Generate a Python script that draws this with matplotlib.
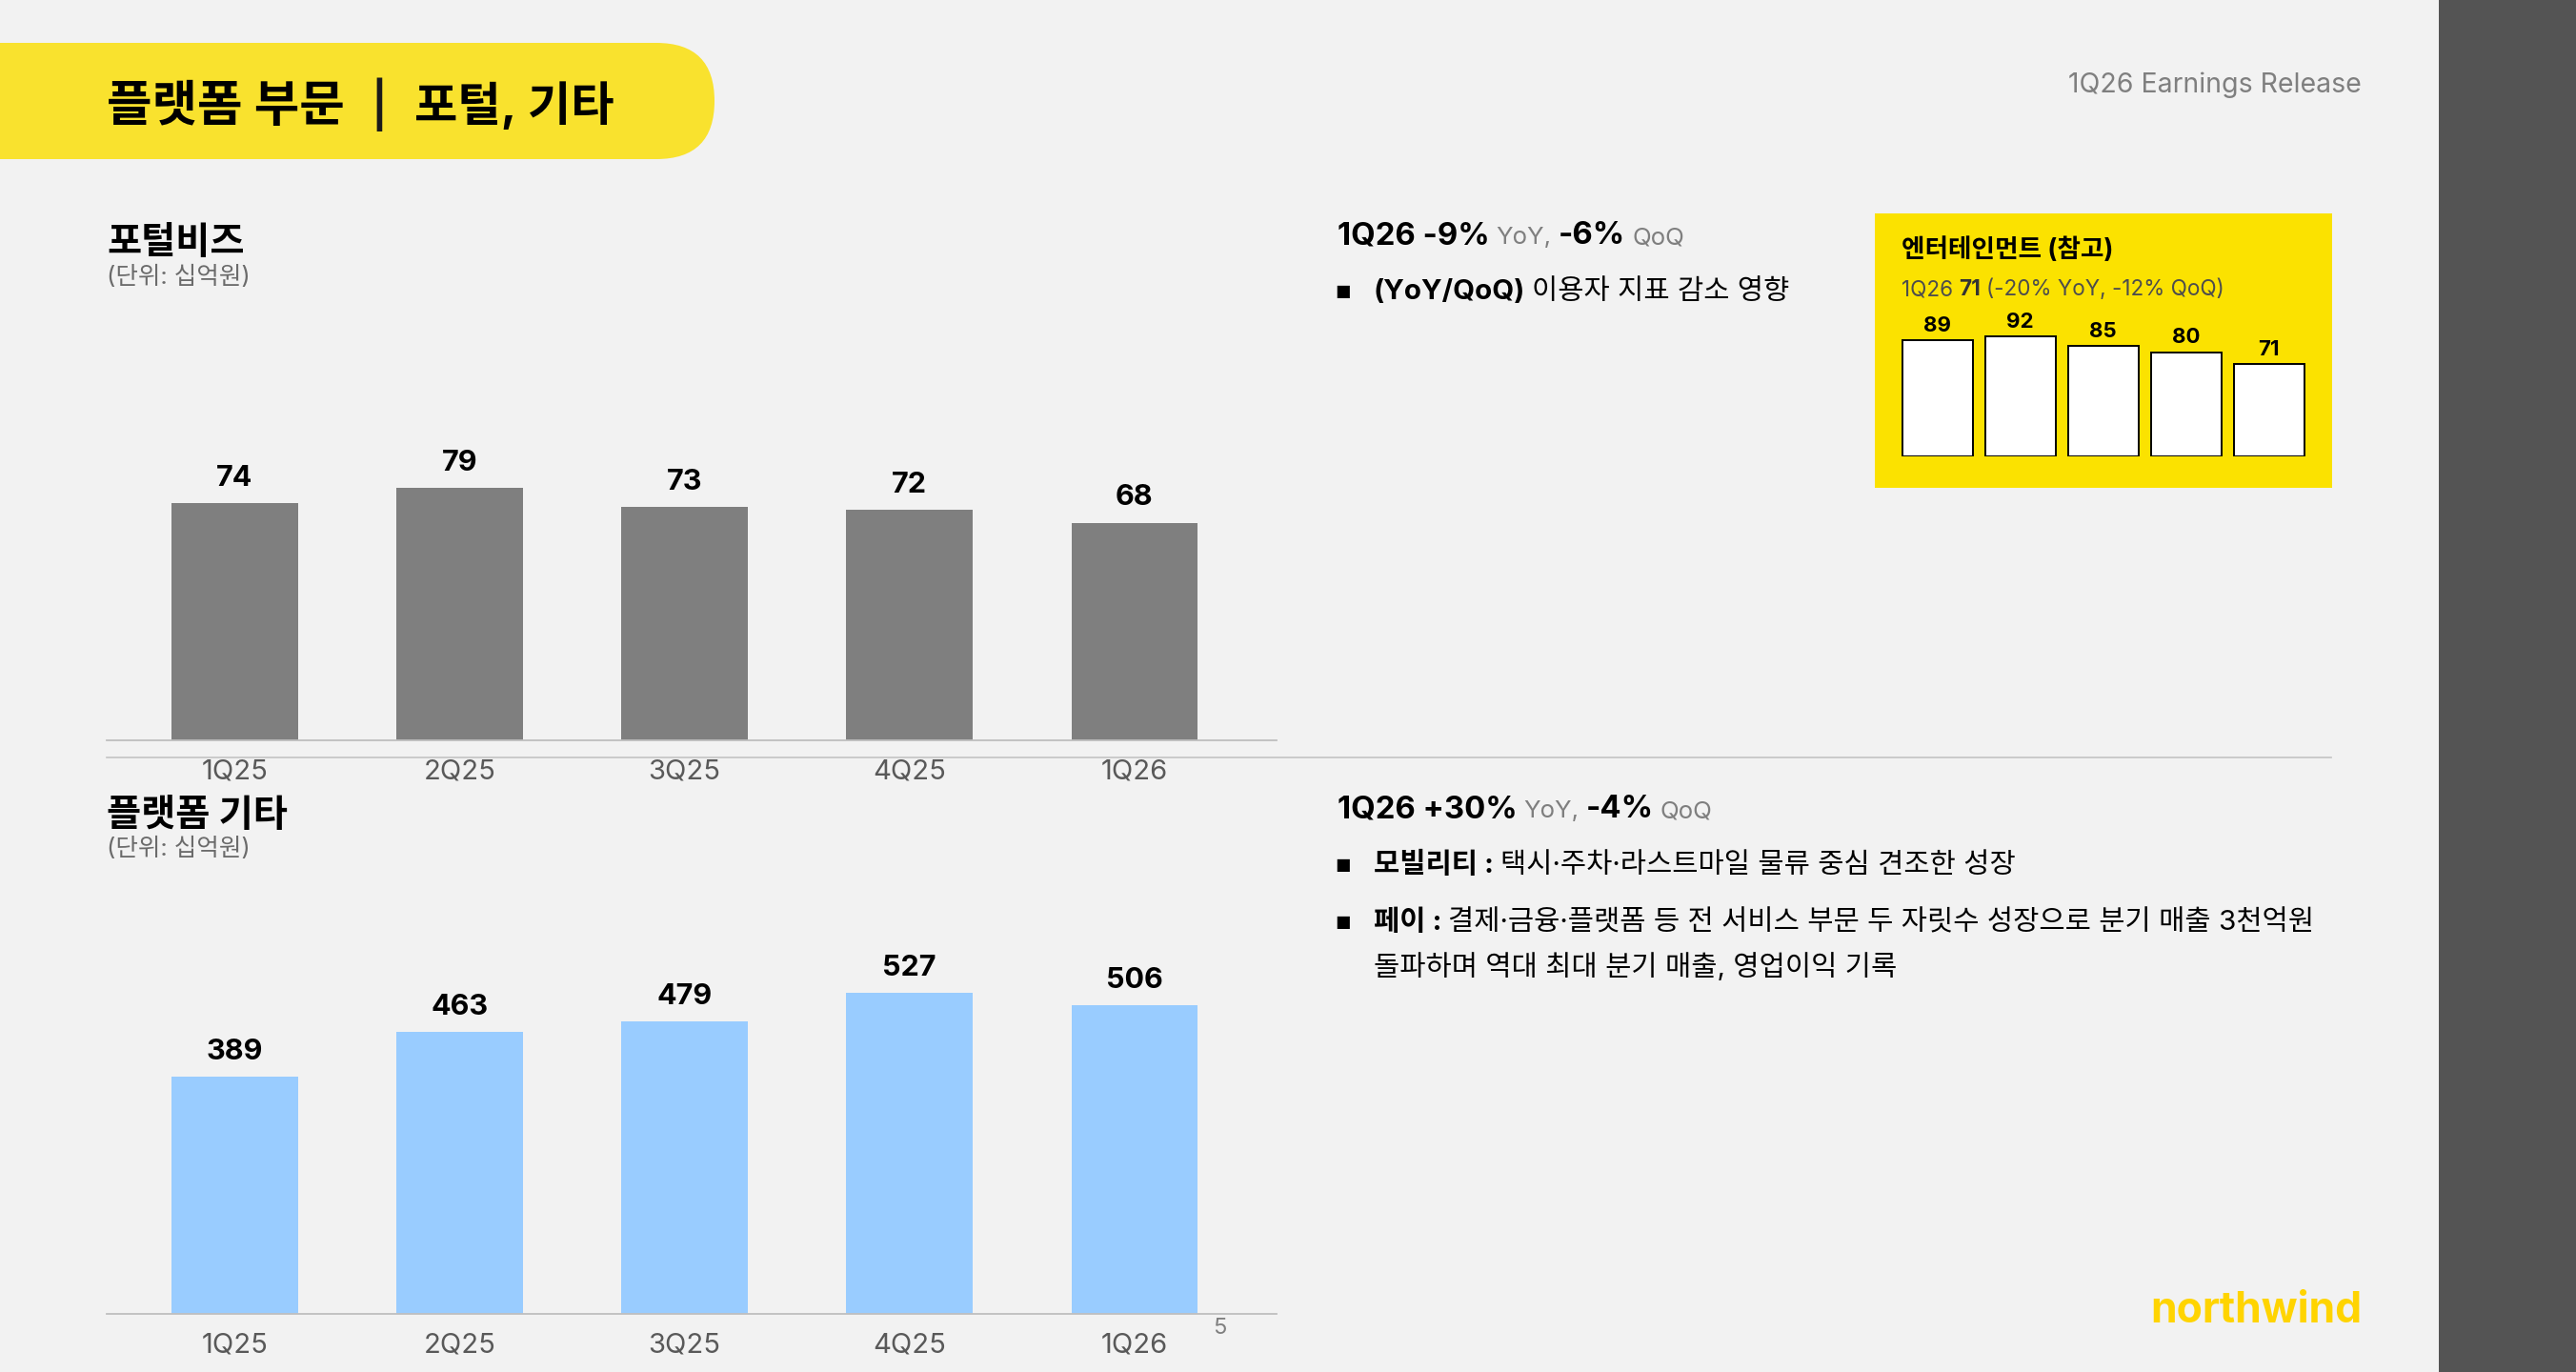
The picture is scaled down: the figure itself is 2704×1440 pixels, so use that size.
import matplotlib
matplotlib.use("Agg")
import matplotlib.pyplot as plt
from matplotlib.patches import FancyBboxPatch, Rectangle

plt.rcParams['font.family'] = ['Inter', 'Noto Sans CJK KR', 'DejaVu Sans']

W, H = 2704, 1440

# data
quarters = ['1Q25', '2Q25', '3Q25', '4Q25', '1Q26']
portal_biz = [74, 79, 73, 72, 68]
platform_etc = [389, 463, 479, 527, 506]
entertainment = [89, 92, 85, 80, 71]

BG = '#f2f2f2'
GREY_TXT = '#7f7f7f'

fig = plt.figure(figsize=(W / 100, H / 100), dpi=100, facecolor=BG)

# full-figure axes in pixel units for the slide furniture
bg = fig.add_axes([0, 0, 1, 1], zorder=0)
bg.set_xlim(0, W)
bg.set_ylim(H, 0)
bg.axis('off')


def px_axes(left, top, right, bottom):
    ax = fig.add_axes([left / W, 1 - bottom / H, (right - left) / W, (bottom - top) / H], zorder=2)
    ax.patch.set_alpha(0)
    return ax


def rich(x, y, parts):
    # parts: (text, size, weight, color, gap_after_px)
    r = fig.canvas.get_renderer()
    for s, size, weight, color, gap in parts:
        t = bg.text(x, y, s, fontsize=size, fontweight=weight, color=color,
                    va='baseline', ha='left')
        x += t.get_window_extent(r).width + gap


# right dark band
bg.add_patch(Rectangle((2560, 0), W - 2560, H, color='#545454', lw=0))

# title banner
bg.add_patch(FancyBboxPatch((-200, 45), 950, 122, boxstyle='round,pad=0,rounding_size=61',
                            fc='#f9e22e', ec='none'))
rich(112, 127, [('플랫폼 부문', 37.2, 'bold', 'black', 28),
                ('|', 34, 'semibold', '#1a1a1a', 28),
                ('포털, 기타', 35.5, 'bold', 'black', 0)])
bg.text(2479, 97, '1Q26 Earnings Release', fontsize=20.5, color=GREY_TXT,
        ha='right', va='baseline')
bg.text(2479, 1388, 'northwind', fontsize=32, fontweight='bold', color='#ffd400',
        ha='right', va='baseline')

# section titles
bg.text(112, 266, '포털비즈', fontsize=28.3, fontweight='bold', color='black', va='baseline')
bg.text(112, 298, '(단위: 십억원)', fontsize=18.4, color='#6b6b6b', va='baseline')
bg.text(112, 867, '플랫폼 기타', fontsize=28.3, fontweight='bold', color='black', va='baseline')
bg.text(112, 898, '(단위: 십억원)', fontsize=18.4, color='#6b6b6b', va='baseline')

# divider
bg.plot([112, 2447], [795, 795], color='#c4c4c4', lw=1.2)

# page number
bg.text(1273, 1400, '5', fontsize=17, color=GREY_TXT, va='baseline')


def bar_panel(ax, values, color, ymax):
    x = list(range(len(values)))
    ax.bar(x, values, width=0.56, color=color, zorder=2)
    ax.set_xlim(-0.57, 4.633)
    ax.set_ylim(0, ymax)
    for s in ['top', 'right', 'left']:
        ax.spines[s].set_visible(False)
    ax.spines['bottom'].set_color('#bfbfbf')
    ax.spines['bottom'].set_linewidth(1.3)
    ax.set_yticks([])
    ax.set_xticks(x)
    ax.set_xticklabels(quarters, fontsize=21, color='#595959')
    ax.tick_params(axis='x', length=0, pad=14)
    for i, v in enumerate(values):
        ax.annotate(str(v), (i, v), xytext=(0, 13), textcoords='offset points',
                    ha='center', va='baseline', fontsize=22, fontweight='bold')


ax1 = px_axes(112, 470, 1340, 777)
bar_panel(ax1, portal_biz, '#7f7f7f', (777 - 470) / 3.36)

ax2 = px_axes(112, 1000, 1340, 1379)
bar_panel(ax2, platform_etc, '#99ccff', (1379 - 1000) / 0.64)

BODY = 21.3

# right text, top
rich(1404, 256, [('1Q26 -9%', 23.7, 'bold', 'black', 7),
                 ('YoY,', 18.6, 'normal', GREY_TXT, 7),
                 ('-6%', 23.7, 'bold', 'black', 7),
                 ('QoQ', 18.6, 'normal', GREY_TXT, 0)])
bg.text(1401, 313, '■', fontsize=13, color='black', va='baseline')
rich(1442, 314, [('(YoY/QoQ)', BODY, 'bold', 'black', 7),
                 ('이용자 지표 감소 영향', BODY, 'normal', 'black', 0)])

# right text, bottom
rich(1404, 858, [('1Q26 +30%', 23.7, 'bold', 'black', 7),
                 ('YoY,', 18.6, 'normal', GREY_TXT, 7),
                 ('-4%', 23.7, 'bold', 'black', 7),
                 ('QoQ', 18.6, 'normal', GREY_TXT, 0)])
bg.text(1401, 915, '■', fontsize=13, color='black', va='baseline')
rich(1442, 916, [('모빌리티 :', BODY, 'bold', 'black', 7),
                 ('택시·주차·라스트마일 물류 중심 견조한 성장', BODY, 'normal', 'black', 0)])
bg.text(1401, 975, '■', fontsize=13, color='black', va='baseline')
rich(1442, 976, [('페이 :', BODY, 'bold', 'black', 7),
                 ('결제·금융·플랫폼 등 전 서비스 부문 두 자릿수 성장으로 분기 매출 3천억원',
                  BODY, 'normal', 'black', 0)])
bg.text(1442, 1024, '돌파하며 역대 최대 분기 매출, 영업이익 기록', fontsize=BODY,
        color='black', va='baseline')

# entertainment reference box
bg.add_patch(Rectangle((1968, 224), 480, 288, fc='#fbe200', ec='none'))
bg.text(1996, 270, '엔터테인먼트 (참고)', fontsize=19.2, fontweight='bold',
        color='black', va='baseline')
rich(1996, 310, [('1Q26', 16.2, 'normal', '#4d4d4d', 6),
                 ('71', 16.2, 'bold', '#333333', 6),
                 ('(-20% YoY, -12% QoQ)', 16.2, 'normal', '#4d4d4d', 0)])

ax3 = px_axes(1990.3, 330, 2425.3, 478.7)
xs = list(range(len(entertainment)))
ax3.bar(xs, entertainment, width=0.845, color='white', edgecolor='black', lw=1.4)
ax3.set_xlim(-0.5, 4.5)
ax3.set_ylim(0, 148.7 / 1.365)
ax3.axis('off')
for i, v in enumerate(entertainment):
    ax3.annotate(str(v), (i, v), xytext=(0, 6.5), textcoords='offset points',
                 ha='center', va='baseline', fontsize=16, fontweight='bold')

fig.savefig('out.png', dpi=100, facecolor=BG)
